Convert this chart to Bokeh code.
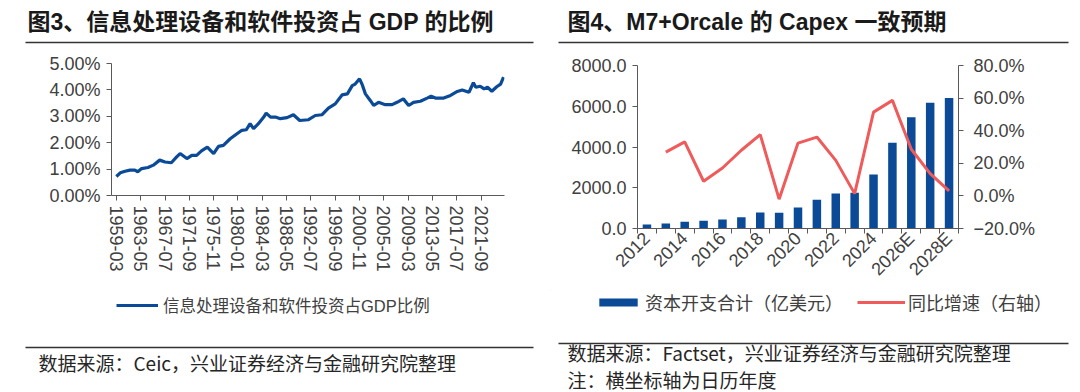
import math
from bokeh.plotting import figure
from bokeh.models import Range1d, LinearAxis, FixedTicker, PrintfTickFormatter, Legend, LegendItem
from bokeh.layouts import row, column
from bokeh.embed import file_html
from bokeh.resources import INLINE
from bokeh.core.properties import value

# ---------------- data: left chart (share of GDP, %) ----------------
ict_dates = ["1959-03", "1959-11", "1960-09", "1961-07", "1962-05", "1962-11", "1963-07", "1964-08",
             "1965-07", "1966-08", "1967-07", "1968-08", "1969-07", "1970-02", "1971-04", "1972-02",
             "1972-12", "1973-10", "1974-10", "1975-11", "1976-09", "1977-07", "1978-09", "1979-11",
             "1980-09", "1981-06", "1982-02", "1982-09", "1983-07", "1984-06", "1984-11", "1985-08",
             "1986-06", "1987-04", "1988-06", "1989-07", "1990-08", "1992-02", "1993-04", "1994-06",
             "1995-07", "1996-09", "1997-11", "1998-10", "1999-08", "2000-02", "2000-11", "2001-04",
             "2001-11", "2002-09", "2003-04", "2004-02", "2005-04", "2006-06", "2007-04", "2008-05",
             "2009-04", "2010-02", "2011-04", "2012-06", "2013-02", "2013-11", "2015-04", "2016-06",
             "2017-08", "2018-06", "2019-08", "2020-05", "2020-10", "2021-07", "2022-03", "2022-10",
             "2023-07", "2024-05", "2025-01", "2025-07"]
ict_share = [0.72, 0.86, 0.92, 0.96, 0.96, 0.90, 1.02, 1.06,
             1.15, 1.34, 1.27, 1.24, 1.46, 1.59, 1.40, 1.52,
             1.52, 1.69, 1.83, 1.59, 1.86, 1.90, 2.15, 2.34,
             2.47, 2.49, 2.72, 2.53, 2.72, 2.97, 3.12, 2.97,
             2.97, 2.91, 2.95, 3.06, 2.84, 2.87, 3.03, 3.06,
             3.31, 3.47, 3.81, 3.85, 4.16, 4.22, 4.42, 4.22,
             3.85, 3.60, 3.41, 3.53, 3.44, 3.44, 3.53, 3.66,
             3.41, 3.53, 3.57, 3.69, 3.76, 3.69, 3.69, 3.79,
             3.94, 4.00, 3.91, 4.27, 4.10, 4.14, 4.04, 4.10,
             3.95, 4.12, 4.22, 4.48]
ict_tick_labels = ["1959-03", "1963-05", "1967-07", "1971-09", "1975-11", "1980-01", "1984-03", "1988-05",
                   "1992-07", "1996-09", "2000-11", "2005-01", "2009-03", "2013-05", "2017-07", "2021-09"]
ict_y_ticks = [0, 1, 2, 3, 4, 5]

# ---------------- data: right chart ----------------
capex_years = ["2012", "2013", "2014", "2015", "2016", "2017", "2018", "2019", "2020", "2021",
               "2022", "2023", "2024", "2025", "2026E", "2027E", "2028E"]
capex_total = [200, 245, 330, 375, 440, 555, 785, 770, 1030, 1405, 1715, 1750, 2645, 4210, 5455, 6175, 6400]
capex_yoy = [float("nan"), 26.9, 33.1, 9.0, 17.1, 28.0, 37.6, -2.0, 32.4, 36.1, 21.8, 1.4, 51.4, 58.6, 28.6, 13.7, 3.1]
capex_left_ticks = [0, 2000, 4000, 6000, 8000]
capex_right_ticks = [-20, 0, 20, 40, 60, 80]

FONT = "Liberation Sans, Noto Sans CJK SC, sans-serif"
CJK = "Noto Sans CJK SC, sans-serif"
AXIS = "#595959"
TXT = "#404040"
BLUE = "#0b4a97"
RED = "#ef5b5b"


def month_index(s):
    y, m = s.split("-")
    return (int(y) - 1959) * 12 + (int(m) - 3)


def style_axis(ax):
    ax.axis_line_color = AXIS
    ax.major_tick_line_color = AXIS
    ax.major_tick_in = 0
    ax.major_tick_out = 5
    ax.minor_tick_line_color = None
    ax.major_label_text_font = FONT
    ax.major_label_text_font_size = "18px"
    ax.major_label_text_color = TXT
    ax.major_label_standoff = 6


def deco_fig(w, h):
    p = figure(width=w, height=h, x_range=Range1d(0, w), y_range=Range1d(h, 0),
               output_backend="svg", toolbar_location=None, min_border=0,
               x_axis_type=None, y_axis_type=None, outline_line_color=None)
    p.frame_align = False
    return p


def put_text(p, x, y, s, size, bold=False, font=FONT, color="#1a1a1a"):
    p.text(x=[x], y=[y], text=[s], text_font=value(font), text_font_size=size,
           text_font_style="bold" if bold else "normal", text_baseline="middle",
           text_align="left", text_color=color)


def put_rule(p, x0, x1, y):
    p.segment(x0=[x0], y0=[y], x1=[x1], y1=[y], line_color="#333333", line_width=1.5)


WL, WR = 550, 530
HH, HC, HF = 48, 242, 102

# ---------------- left chart ----------------
ict_x = [month_index(d) for d in ict_dates]
ict_tick_pos = [month_index(d) for d in ict_tick_labels]

p1 = figure(width=WL, height=HC, x_range=Range1d(-10, 798), y_range=Range1d(0, 5),
            output_backend="svg", toolbar_location=None,
            min_border_left=111, min_border_right=WL - 111 - 393, min_border_top=15,
            min_border_bottom=HC - 15 - 132)
p1.frame_align = False
p1.outline_line_color = None
p1.xgrid.visible = False
p1.ygrid.visible = False
p1.line(x=ict_x, y=ict_share, line_width=3.2, line_color=BLUE)
for ax in (p1.xaxis[0], p1.yaxis[0]):
    style_axis(ax)
p1.yaxis.ticker = FixedTicker(ticks=ict_y_ticks)
p1.yaxis.formatter = PrintfTickFormatter(format="%.2f%%")
p1.xaxis.ticker = FixedTicker(ticks=ict_tick_pos)
p1.xaxis.major_label_overrides = {pos: lab for pos, lab in zip(ict_tick_pos, ict_tick_labels)}
p1.xaxis.major_label_orientation = "vertical"
p1.xaxis.major_label_standoff = 5

# ---------------- right chart ----------------
idx = list(range(len(capex_years)))
p2 = figure(width=WR, height=HC, x_range=Range1d(-0.5, len(capex_years) - 0.5), y_range=Range1d(0, 8000),
            output_backend="svg", toolbar_location=None,
            min_border_left=87, min_border_right=WR - 87 - 321, min_border_top=17,
            min_border_bottom=HC - 17 - 163)
p2.frame_align = False
p2.outline_line_color = None
p2.xgrid.visible = False
p2.ygrid.visible = False
p2.extra_y_ranges = {"yoy": Range1d(-20, 80)}
p2.vbar(x=idx, top=capex_total, width=0.45, fill_color=BLUE, line_color=None)
p2.line(x=idx, y=capex_yoy, y_range_name="yoy", line_width=3, line_color=RED)
yax_r = LinearAxis(y_range_name="yoy")
p2.add_layout(yax_r, "right")
for ax in (p2.xaxis[0], p2.yaxis[0], yax_r):
    style_axis(ax)
p2.yaxis[0].ticker = FixedTicker(ticks=capex_left_ticks)
p2.yaxis[0].formatter = PrintfTickFormatter(format="%.1f")
yax_r.ticker = FixedTicker(ticks=capex_right_ticks)
yax_r.formatter = PrintfTickFormatter(format="%.1f%%")
yax_r.major_label_overrides = {t: ("\u2212%.1f%%" % abs(t)) for t in capex_right_ticks if t < 0}
yax_r.major_label_standoff = 10
even = [i for i in idx if i % 2 == 0]
p2.xaxis.ticker = FixedTicker(ticks=even, minor_ticks=[i - 0.5 for i in idx] + [idx[-1] + 0.5])
p2.xaxis.major_tick_out = 0
p2.xaxis.minor_tick_line_color = AXIS
p2.xaxis.minor_tick_in = 0
p2.xaxis.minor_tick_out = 5
p2.xaxis.major_label_overrides = {i: capex_years[i] for i in even}
p2.xaxis.major_label_orientation = math.pi / 4
p2.xaxis.major_label_standoff = 2

# ---------------- headers ----------------
hL = deco_fig(WL, HH)
put_text(hL, 27, 21, "图3、信息处理设备和软件投资占 GDP 的比例", "23px", bold=True)
put_rule(hL, 25, 533, 42)

hR = deco_fig(WR, HH)
put_text(hR, 17, 21, "图4、M7+Orcale 的 Capex 一致预期", "23px", bold=True)
put_rule(hR, 8, 518, 42)

# ---------------- footers with legends ----------------
# legend keys: off-screen proxy glyphs styled exactly like the chart's series
fL = deco_fig(WL, HF)
key_l = fL.line(x=[-60, -50], y=[-60, -60], line_width=3.2, line_color=BLUE)
leg1 = Legend(items=[LegendItem(label="信息处理设备和软件投资占GDP比例", renderers=[key_l])],
              location=(116, HF - 27), orientation="horizontal", glyph_width=42, glyph_height=16,
              label_text_font=FONT, label_text_font_size="16.5px", label_text_color=TXT,
              label_standoff=5, border_line_color=None, background_fill_alpha=0,
              margin=0, padding=2)
fL.add_layout(leg1, "center")
put_rule(fL, 25, 533, 57)
put_text(fL, 38, 72, "数据来源：Ceic，兴业证券经济与金融研究院整理", "19px", font=CJK, color="#262626")

fR = deco_fig(WR, HF)
key_b = fR.vbar(x=[-60], top=[-60], bottom=[-70], width=1, fill_color=BLUE, line_color=None)
key_r = fR.line(x=[-60, -50], y=[-60, -60], line_width=3, line_color=RED)
leg2 = Legend(items=[LegendItem(label="资本开支合计（亿美元）", renderers=[key_b]),
                     LegendItem(label="同比增速（右轴）", renderers=[key_r])],
              location=(44, HF - 25), orientation="horizontal", glyph_width=48, glyph_height=10,
              label_text_font=FONT, label_text_font_size="18px", label_text_color=TXT,
              label_standoff=3, spacing=14, border_line_color=None, background_fill_alpha=0,
              margin=0, padding=2)
fR.add_layout(leg2, "center")
put_rule(fR, 8, 518, 53)
put_text(fR, 17, 62, "数据来源：Factset，兴业证券经济与金融研究院整理", "19px", font=CJK, color="#262626")
put_text(fR, 17, 89, "注：横坐标轴为日历年度", "19px", font=CJK, color="#262626")

layout = row(column(hL, p1, fL), column(hR, p2, fR))
open("out.html", "w").write(file_html(layout, INLINE))
